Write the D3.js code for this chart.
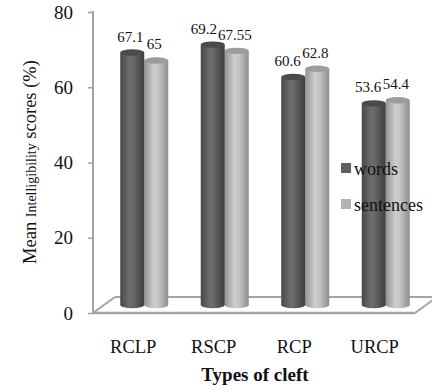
<!DOCTYPE html>
<html>
<head>
<meta charset="utf-8">
<script src="https://cdn.jsdelivr.net/npm/d3@7"></script>
<style>
  body { margin: 0; background: #fff; }
  svg { display: block; font-family: "Liberation Serif", "Times New Roman", serif; }
</style>
</head>
<body>
<div id="chart"></div>
<script>
// values
const categories = ["RCLP", "RSCP", "RCP", "URCP"];
const seriesNames = ["words", "sentences"];
const words = [67.1, 69.2, 60.6, 53.6];
const sentences = [65, 67.55, 62.8, 54.4];
const yTicks = [0, 20, 40, 60, 80];

const width = 432, height = 390;
const plotLeft = 93, plotRight = 415, plotBottom = 313, plotTop = 12;
const depthX = 22, depthY = 16;   // 3d floor offset

const svg = d3.select("#chart").append("svg")
    .attr("width", width)
    .attr("height", height)
    .attr("font-family", "Liberation Serif");

const defs = svg.append("defs");

// cylinder shading, one gradient per series
const shades = {
    words: ["#474747", "#5c5c5c", "#6e6e6e", "#636363", "#4e4e4e", "#3f3f3f"],
    sentences: ["#939393", "#b0b0b0", "#cdcdcd", "#c4c4c4", "#a8a8a8", "#8e8e8e"]
};
seriesNames.forEach(s => {
    const g = defs.append("linearGradient").attr("id", "grad-" + s)
        .attr("x1", "0%").attr("x2", "100%").attr("y1", "0%").attr("y2", "0%");
    shades[s].forEach((c, i, a) => g.append("stop")
        .attr("offset", (i / (a.length - 1) * 100) + "%")
        .attr("stop-color", c));
});
const topColor = { words: "#4b4b4b", sentences: "#9c9c9c" };
const legendColor = { words: "#5e5e5e", sentences: "#b3b3b3" };

const x = d3.scaleBand().domain(categories).range([plotLeft, plotRight]);
const x1 = d3.scaleBand().domain(seriesNames).range([0, 48]);
const y = d3.scaleLinear().domain([0, 80]).range([plotBottom, plotTop]);
// bars stand half way back on the floor
const yBar = d3.scaleLinear().domain([0, 80]).range([plotBottom - depthY / 2, plotTop - depthY / 2]);

const grey = "#a3a3a3";

// floor
const floor = svg.append("g").attr("fill", "none").attr("stroke", grey).attr("stroke-width", 2);
floor.append("line").attr("x1", plotLeft + depthX).attr("y1", plotBottom - depthY)
    .attr("x2", plotRight + depthX).attr("y2", plotBottom - depthY);
floor.append("path").attr("d", `M${plotLeft},${plotBottom}L${plotLeft + depthX},${plotBottom - depthY}`);
floor.append("path").attr("d", `M${plotRight},${plotBottom}L${plotRight + depthX},${plotBottom - depthY}`);

// y axis
const yAxis = svg.append("g").attr("transform", `translate(${plotLeft},0)`)
    .call(d3.axisLeft(y).tickValues(yTicks).tickSize(5).tickPadding(15));
yAxis.attr("font-family", "Liberation Serif");
yAxis.select(".domain").attr("stroke", grey).attr("stroke-width", 2)
    .attr("d", `M0,${y(0)}V${y(80) - 1}`);
yAxis.selectAll(".tick line").attr("stroke", grey).attr("stroke-width", 1.5);
yAxis.selectAll(".tick text").attr("font-size", 19).attr("fill", "#111");

// front floor edge
svg.append("line").attr("x1", plotLeft).attr("x2", plotRight).attr("y1", plotBottom).attr("y2", plotBottom)
    .attr("stroke", grey).attr("stroke-width", 2.5);

// data rows
const rows = categories.map((c, i) => ({ cat: c, words: words[i], sentences: sentences[i] }));

const rx = 12, ry = 3.2;
const barOff = x.bandwidth() / 2 + 12 - 24 - 1;

const groups = svg.append("g").selectAll("g").data(rows).join("g")
    .attr("transform", d => `translate(${x(d.cat) + barOff},0)`);

// sentences first so words overlaps it
["sentences", "words"].forEach(s => {
    const bar = groups.append("g").attr("transform", `translate(${x1(s)},0)`);
    bar.append("ellipse")
        .attr("cx", rx).attr("cy", yBar(0)).attr("rx", rx).attr("ry", ry)
        .attr("fill", `url(#grad-${s})`);
    bar.append("rect")
        .attr("x", 0).attr("width", x1.bandwidth())
        .attr("y", d => yBar(d[s])).attr("height", d => yBar(0) - yBar(d[s]))
        .attr("fill", `url(#grad-${s})`);
    bar.append("ellipse")
        .attr("cx", rx).attr("cy", d => yBar(d[s])).attr("rx", rx).attr("ry", ry)
        .attr("fill", topColor[s]);
});

// value labels, pushed apart when they collide
const labels = svg.append("g").attr("font-size", 15).attr("fill", "#111").attr("text-anchor", "middle");
rows.forEach(d => {
    const gx = x(d.cat) + barOff;
    const tw = labels.append("text").text(d.words)
        .attr("x", gx + x1("words") + rx - 2).attr("y", yBar(d.words) - 11);
    const ts = labels.append("text").text(d.sentences)
        .attr("x", gx + x1("sentences") + rx - 2).attr("y", yBar(d.sentences) - 11);
    const bw = tw.node().getBBox(), bs = ts.node().getBBox();
    const overlap = bw.x + bw.width - bs.x + 1;
    if (overlap > 0) tw.attr("x", +tw.attr("x") - overlap);
});

// category labels on the front plane
svg.append("g").selectAll("text").data(categories).join("text")
    .attr("x", d => x(d) + x.bandwidth() / 2)
    .attr("y", 353)
    .attr("text-anchor", "middle")
    .attr("font-size", 18.5)
    .attr("fill", "#111")
    .text(d => d);

// axis titles
svg.append("text")
    .attr("x", 255).attr("y", 381)
    .attr("text-anchor", "middle")
    .attr("font-size", 19).attr("font-weight", "bold").attr("fill", "#111")
    .text("Types of cleft");

const yTitle = svg.append("text")
    .attr("transform", "translate(36,162) rotate(-90)")
    .attr("text-anchor", "middle")
    .attr("font-size", 18.5).attr("fill", "#111");
yTitle.append("tspan").text("Mean ");
yTitle.append("tspan").attr("font-size", 14).text("Intelligibility");
yTitle.append("tspan").text(" scores (%)");

// legend
const legend = svg.append("g").selectAll("g").data(seriesNames).join("g")
    .attr("transform", (d, i) => `translate(341,${163 + i * 36})`);
legend.append("rect").attr("width", 10).attr("height", 10).attr("fill", d => legendColor[d]);
legend.append("text").attr("x", 13).attr("y", 12).attr("font-size", 18).attr("fill", "#111")
    .text(d => d);
</script>
</body>
</html>
